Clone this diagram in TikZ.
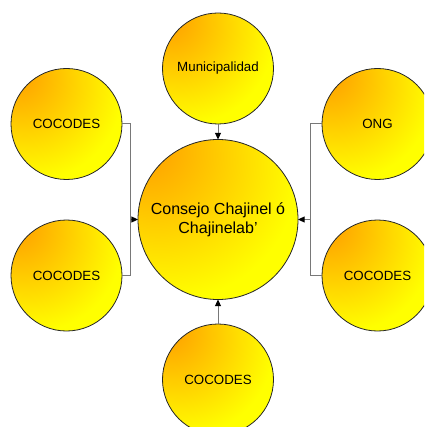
\documentclass[tikz,border=0pt]{standalone}
\usepackage{fontspec}
\setmainfont{Liberation Sans}
\usepackage{tikz}
\usetikzlibrary{arrows.meta}
\usepackage{xcolor}

\definecolor{orgc}{RGB}{255,172,0}
\definecolor{yelc}{RGB}{255,255,0}
\definecolor{linkc}{RGB}{120,120,120}
\pgfdeclareradialshading{ballshade}{\pgfpoint{-25bp}{25bp}}{color(0bp)=(orgc); color(8bp)=(orgc); color(40bp)=(yelc); color(100bp)=(yelc)}

\begin{document}
\begin{tikzpicture}[x=0.75pt,y=-0.75pt,
    ball/.style={circle,draw=black!85,line width=0.6pt,shading=ballshade,inner sep=0pt,outer sep=0pt,
        minimum size=83.25pt,align=center,font=\fontsize{10}{12}\selectfont},
    bigball/.style={ball,minimum size=120pt,font=\fontsize{12}{14.5}\selectfont},
    link/.style={draw=linkc,line width=0.75pt},
    tip/.style={-{Triangle[black,length=5pt,width=4.5pt]}}]
        \clip (0,0) rectangle (424,427);

        \node[bigball] (cons) at (218,219.5) {Consejo Chajinel ó\\Chajinelab’};

        \node[ball] (mun) at (218,68.5) {Municipalidad};
        \node[ball] (cl1) at (66.5,124) {COCODES};
        \node[ball] (cl2) at (66.5,275.5) {COCODES};
        \node[ball] (ong) at (377.5,124) {ONG};
        \node[ball] (cr2) at (377.5,275.5) {COCODES};
        \node[ball] (cb) at (218,379.5) {COCODES};

        \coordinate (lj) at (130,219.5);
        \coordinate (rj) at (310,219.5);

        \draw[link,tip] (mun) -- (cons);
        \draw[link,tip] (cb) -- (cons);

        \draw[link] (cl1.east) -| (lj);
        \draw[link] (cl2.east) -| (lj);
        \draw[link,tip] (lj) -- (cons.west);

        \draw[link] (ong.west) -| (rj);
        \draw[link] (cr2.west) -| (rj);
        \draw[link,tip] (rj) -- (cons.east);
\end{tikzpicture}
\end{document}
